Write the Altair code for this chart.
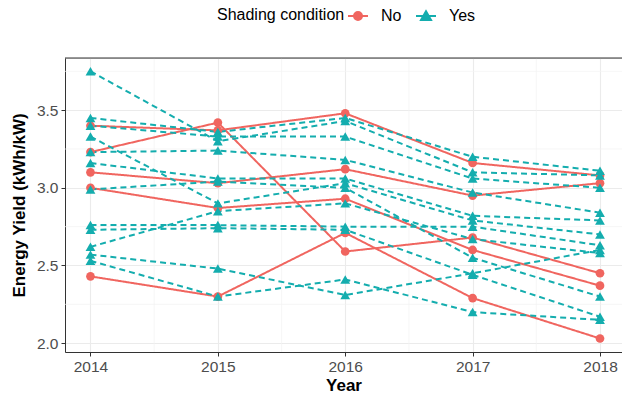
import altair as alt
import pandas as pd

years = [2014, 2015, 2016, 2017, 2018]

# Systems without shading (solid lines, circles)
no_series = [
    [3.40, 3.37, 3.48, 3.16, 3.08],
    [3.23, 3.42, 2.59, 2.68, 2.45],
    [3.10, 3.03, 3.12, 2.95, 3.03],
    [3.00, 2.87, 2.93, 2.60, 2.37],
    [2.43, 2.30, 2.71, 2.29, 2.03],
]

# Systems with shading (dashed lines, triangles)
yes_series = [
    [3.75, 3.30, 3.43, 3.10, 3.08],
    [3.45, 3.36, 3.45, 3.20, 3.11],
    [3.40, 3.33, 3.33, 3.06, 3.00],
    [3.33, 2.90, 3.03, 2.79, 2.70],
    [3.23, 3.24, 3.18, 2.97, 2.84],
    [3.16, 3.06, 3.06, 2.82, 2.79],
    [2.99, 3.04, 3.00, 2.55, 2.30],
    [2.76, 2.76, 2.75, 2.75, 2.63],
    [2.73, 2.74, 2.73, 2.44, 2.17],
    [2.62, 2.85, 2.90, 2.67, 2.58],
    [2.57, 2.48, 2.31, 2.45, 2.60],
    [2.53, 2.30, 2.41, 2.20, 2.15],
]

conditions = ["No", "Yes"]
palette = ["#F0655F", "#14ADAE"]

minor_x = [2014.5, 2015.5, 2016.5, 2017.5]
minor_y = [2.25, 2.75, 3.25, 3.75]
y_ticks = [2.0, 2.5, 3.0, 3.5]

rows = []
for cond, group in (("No", no_series), ("Yes", yes_series)):
    for i, vals in enumerate(group):
        for yr, v in zip(years, vals):
            rows.append({"Year": yr, "Yield": v, "system": f"{cond}-{i}",
                         "Shading condition": cond})
df = pd.DataFrame(rows)

x_dom = [2013.8, 2013.8 + 4.2 * 557 / 535]
y_dom = [1.943, 3.836]
x_scale = alt.Scale(domain=x_dom, nice=False, zero=False)
y_scale = alt.Scale(domain=y_dom, nice=False, zero=False)
color_scale = alt.Scale(domain=conditions, range=palette)
dash_scale = alt.Scale(domain=conditions, range=[[1, 0], [6, 4]])
shape_scale = alt.Scale(domain=conditions, range=["circle", "triangle-up"])
size_scale = alt.Scale(domain=conditions, range=[76, 96])

# Legend keys: a short line through the point symbol (unit coordinates)
key_no = "M-1,0H1M0.4,0A0.4,0.4 0 1,1 -0.4,0A0.4,0.4 0 1,1 0.4,0Z"
key_yes = "M-1,0H1M0,-0.48L0.5,0.4L-0.5,0.4Z"
key_scale = alt.Scale(domain=conditions, range=[key_no, key_yes])

axis_style = dict(grid=True, gridColor="#EBEBEB", gridWidth=1.1,
                  domainColor="#333333", domainWidth=1,
                  tickColor="#333333", tickSize=4, labelPadding=3,
                  labelFontSize=15.5, labelColor="#4D4D4D",
                  titleFontSize=17, titleFontWeight="bold", titleColor="black")
x_axis = alt.Axis(values=years, format="d", title="Year", titlePadding=3, **axis_style)
y_axis = alt.Axis(values=y_ticks, format=".1f", title="Energy Yield (kWh/kW)",
                  titlePadding=8, **axis_style)

legend = alt.Legend(
    orient="none", legendX=152, legendY=-53, direction="horizontal",
    titleOrient="left", title="Shading condition",
    titleFontSize=16, titleFontWeight="normal", titleColor="black",
    titlePadding=2, labelFontSize=16, labelColor="black", labelOffset=12,
    columnPadding=10, symbolSize=400, symbolStrokeWidth=2, padding=0,
)

minor_v = alt.Chart(pd.DataFrame({"x": minor_x})).mark_rule(
    color="#F2F2F2", strokeWidth=0.7).encode(x=alt.X("x:Q", scale=x_scale, axis=x_axis))
minor_h = alt.Chart(pd.DataFrame({"y": minor_y})).mark_rule(
    color="#F2F2F2", strokeWidth=0.7).encode(y=alt.Y("y:Q", scale=y_scale, axis=y_axis))
top_border = alt.Chart(pd.DataFrame({"y": [y_dom[1]]})).mark_rule(
    color="#333333", strokeWidth=1).encode(y=alt.Y("y:Q", scale=y_scale, axis=y_axis))

base = alt.Chart(df)
lines = base.mark_line(strokeWidth=2).encode(
    x=alt.X("Year:Q", scale=x_scale, axis=x_axis),
    y=alt.Y("Yield:Q", scale=y_scale, axis=y_axis),
    detail="system:N",
    color=alt.Color("Shading condition:N", scale=color_scale, legend=None),
    strokeDash=alt.StrokeDash("Shading condition:N", scale=dash_scale, legend=None),
    order=alt.Order("Year:Q"),
)
points = base.mark_point(filled=True, opacity=1).encode(
    x=alt.X("Year:Q", scale=x_scale, axis=x_axis),
    y=alt.Y("Yield:Q", scale=y_scale, axis=y_axis),
    color=alt.Color("Shading condition:N", scale=color_scale, legend=None),
    shape=alt.Shape("Shading condition:N", scale=shape_scale, legend=None),
    size=alt.Size("Shading condition:N", scale=size_scale, legend=None),
)
# Legend carrier: no rows survive the filter, only the legend is drawn
legend_keys = base.transform_filter("false").mark_point(
    filled=True, opacity=1, strokeWidth=2
).encode(
    x=alt.X("Year:Q", scale=x_scale, axis=x_axis),
    y=alt.Y("Yield:Q", scale=y_scale, axis=y_axis),
    fill=alt.Fill("Shading condition:N", scale=color_scale, legend=legend),
    stroke=alt.Stroke("Shading condition:N", scale=color_scale, legend=legend),
    shape=alt.Shape("Shading condition:N", scale=key_scale, legend=legend),
)

chart = alt.layer(minor_v, minor_h, top_border, lines, points, legend_keys).resolve_scale(
    shape="independent"
).resolve_legend(shape="independent", fill="independent", stroke="independent").properties(
    width=557, height=294, autosize="none",
    padding={"left": 65, "top": 58, "right": 0, "bottom": 47},
).configure_view(stroke=None).configure(
    font="Liberation Sans", background="white"
)

chart.save("out.html", embed_options={"renderer": "svg", "actions": False})
